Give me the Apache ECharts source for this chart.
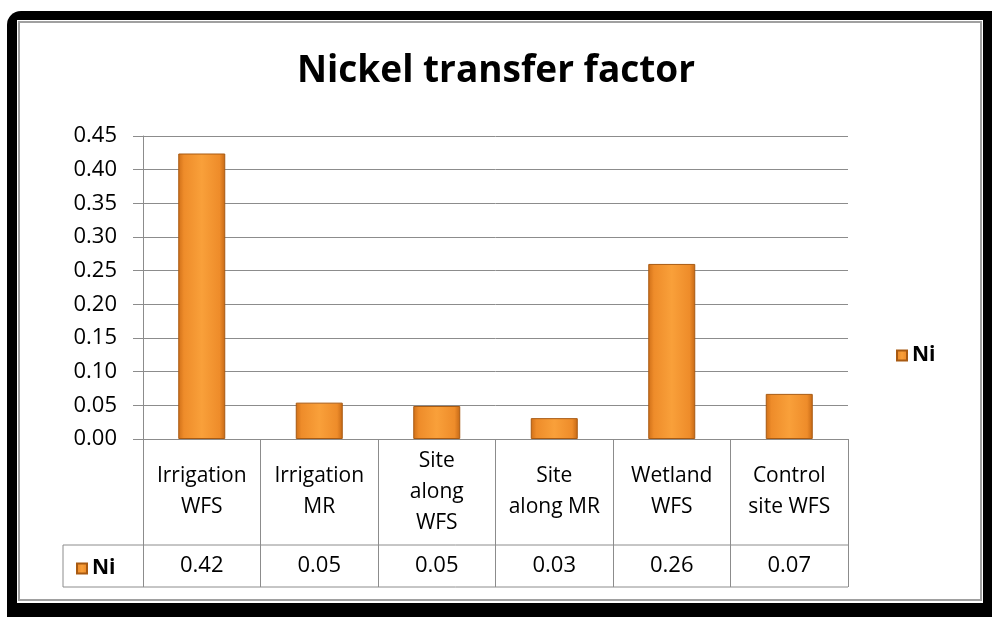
<!DOCTYPE html>
<html>
<head>
<meta charset="utf-8">
<script src="https://cdn.jsdelivr.net/npm/echarts@6/dist/echarts.min.js"></script>
<style>
  html, body { margin: 0; padding: 0; background: #fff; }
  #chart { width: 992px; height: 617px; }
</style>
</head>
<body>
<div id="chart"></div>
<script>
// sites along the x axis
const categories = ['Irrigation\nWFS', 'Irrigation\nMR', 'Site\nalong\nWFS', 'Site\nalong MR', 'Wetland\nWFS', 'Control\nsite WFS']
// Ni transfer factor
const niValues = [0.424, 0.054, 0.049, 0.031, 0.26, 0.067]
// values printed in the data table
const tableValues = ['0.42', '0.05', '0.05', '0.03', '0.26', '0.07']
const yTicks = ['0.00', '0.05', '0.10', '0.15', '0.20', '0.25', '0.30', '0.35', '0.40', '0.45']

const font = 'Open Sans'
const lineGray = '#8c8c8c'

// plot area
const gLeft = 143, gTop = 136, gWidth = 705, gHeight = 303
const gBottom = gTop + gHeight
const headerH = 106, valueH = 42
const tableLeft = 63

const barColor = {
  type: 'linear', x: 0, y: 0, x2: 1, y2: 0,
  colorStops: [
    { offset: 0, color: '#cf6f18' },
    { offset: 0.12, color: '#ee8c2a' },
    { offset: 0.5, color: '#f9a03a' },
    { offset: 0.88, color: '#ee8c2a' },
    { offset: 1, color: '#c56815' },
  ],
}

const chart = echarts.init(document.getElementById('chart'))
chart.setOption({
  animation: false,
  textStyle: { fontFamily: font },
  graphic: [
    // black frame
    { type: 'rect', z: -10, shape: { x: 7, y: 11, width: 1000, height: 620, r: 14 }, style: { fill: '#000' } },
    { type: 'rect', z: -9, shape: { x: 17, y: 20, width: 966, height: 583 }, style: { fill: '#fff' } },
    { type: 'rect', z: -8, shape: { x: 19, y: 22, width: 962, height: 578 }, style: { fill: 'none', stroke: '#a0a0a0', lineWidth: 2 } },
    // data table borders
    { type: 'line', shape: { x1: tableLeft, y1: gBottom + headerH, x2: gLeft + gWidth, y2: gBottom + headerH }, style: { stroke: lineGray, lineWidth: 1 } },
    { type: 'line', shape: { x1: tableLeft, y1: gBottom + headerH + valueH, x2: gLeft + gWidth, y2: gBottom + headerH + valueH }, style: { stroke: lineGray, lineWidth: 1 } },
    { type: 'line', shape: { x1: tableLeft, y1: gBottom + headerH, x2: tableLeft, y2: gBottom + headerH + valueH }, style: { stroke: lineGray, lineWidth: 1 } },
  ],
  title: {
    text: 'Nickel transfer factor',
    left: 'center',
    top: 48,
    textStyle: { fontFamily: font, fontSize: 37, fontWeight: 'bold', color: '#000' },
  },
  legend: [
    {
      data: ['Ni'],
      left: 891, top: 340,
      icon: 'rect', itemWidth: 10, itemHeight: 10, itemGap: 6,
      textStyle: { fontFamily: font, fontSize: 21, fontWeight: 'bold', color: '#000' },
    },
    {
      data: ['Ni'],
      left: 71, top: gBottom + headerH + 8,
      icon: 'rect', itemWidth: 10, itemHeight: 10, itemGap: 6,
      textStyle: { fontFamily: font, fontSize: 21, fontWeight: 'bold', color: '#000' },
    },
  ],
  grid: { left: gLeft, top: gTop, width: gWidth, height: gHeight },
  xAxis: [
    {
      type: 'category',
      data: categories,
      axisLine: { lineStyle: { color: lineGray, width: 1 } },
      axisTick: { show: true, length: headerH + valueH, lineStyle: { color: lineGray, width: 1 } },
      axisLabel: {
        interval: 0,
        margin: headerH / 2,
        verticalAlign: 'middle',
        lineHeight: 31,
        fontFamily: font, fontSize: 21, color: '#000',
      },
    },
    {
      type: 'category',
      data: tableValues,
      position: 'bottom',
      offset: 0,
      axisLine: { show: false },
      axisTick: { show: false },
      axisLabel: {
        interval: 0,
        margin: headerH + valueH / 2,
        verticalAlign: 'middle',
        fontFamily: font, fontSize: 22, color: '#000',
      },
    },
  ],
  yAxis: {
    type: 'value',
    min: 0,
    max: 0.45,
    interval: 0.05,
    axisLine: { show: true, lineStyle: { color: lineGray, width: 1 } },
    axisTick: { show: true, length: 10, lineStyle: { color: lineGray } },
    splitLine: { lineStyle: { color: lineGray, width: 1 } },
    axisLabel: {
      margin: 26,
      fontFamily: font, fontSize: 22, color: '#000',
      formatter: (v) => yTicks[Math.round(v / 0.05)],
    },
  },
  series: [
    {
      name: 'Ni',
      type: 'bar',
      xAxisIndex: 0,
      barWidth: '40%',
      data: niValues,
      itemStyle: { color: barColor, borderColor: '#a85a12', borderWidth: 1 },
    },
  ],
})
</script>
</body>
</html>
